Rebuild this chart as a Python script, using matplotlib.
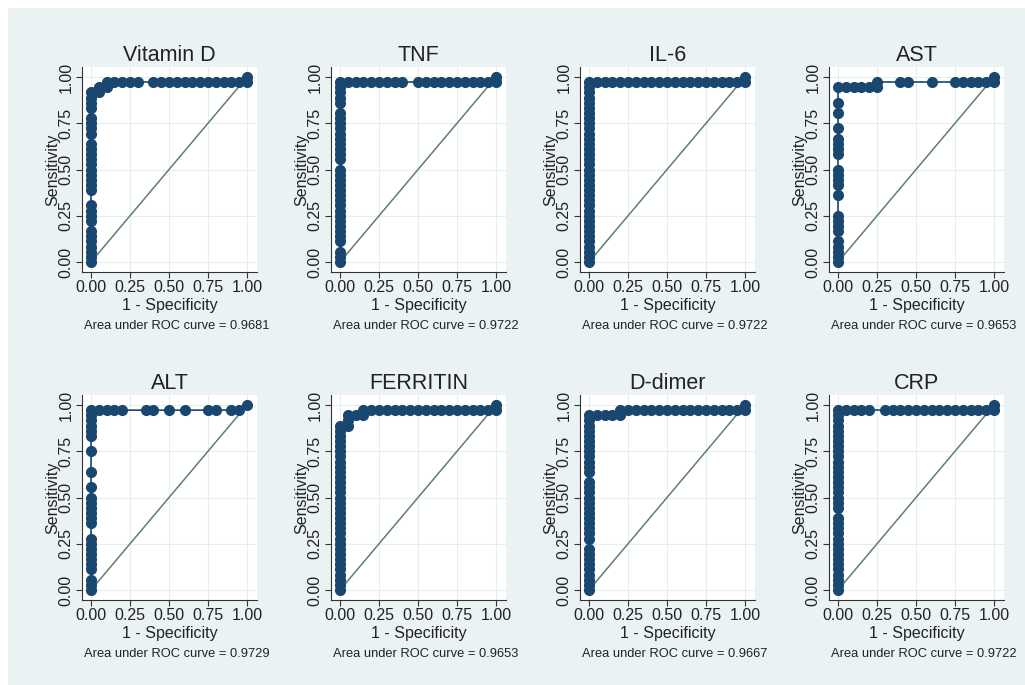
import matplotlib.pyplot as plt
from matplotlib.patches import Rectangle

plt.rcParams['font.family'] = ['Liberation Sans', 'DejaVu Sans']

# 36 positive and 20 negative cases; points are counts
n_pos = 36
n_neg = 20

titles = ['Vitamin D', 'TNF', 'IL-6', 'AST', 'ALT', 'FERRITIN', 'D-dimer', 'CRP']
auc = ['0.9681', '0.9722', '0.9722', '0.9653', '0.9729', '0.9653', '0.9667', '0.9722']

# true positives at 1-specificity = 0
vitd_tp0 = [0, 1, 2, 3, 4, 5, 6, 8, 9, 10, 11, 14, 15, 16, 17, 18, 19, 20, 21, 22, 23,
            25, 26, 27, 28, 30, 31, 32, 33]
tnf_tp0 = [0, 1, 2, 4, 5, 6, 7, 8, 9, 10, 11, 12, 13, 14, 15, 16, 17, 18, 20, 21, 22, 23,
           24, 25, 26, 27, 28, 29, 31, 32, 33, 34, 35]
il6_tp0 = [0, 1, 2, 3, 4, 5, 6, 7, 8, 9, 10, 11, 12, 13, 14, 15, 16, 17, 18, 19, 20, 21,
           22, 23, 24, 25, 26, 27, 28, 29, 30, 31, 32, 33, 34, 35]
ast_tp0 = [0, 1, 2, 3, 4, 6, 7, 8, 9, 13, 15, 16, 17, 18, 21, 22, 23, 24, 26, 29, 31, 34]
alt_tp0 = [0, 1, 2, 4, 5, 6, 7, 8, 9, 10, 13, 14, 15, 16, 17, 18, 20, 23, 27, 30, 31, 32,
           33, 34, 35]
fer_tp0 = [0, 1, 2, 3, 4, 5, 6, 7, 8, 9, 10, 11, 12, 13, 14, 15, 16, 17, 18, 19, 20, 21,
           22, 23, 24, 25, 26, 27, 28, 29, 30, 31, 32]
ddim_tp0 = [0, 1, 2, 3, 4, 5, 6, 7, 8, 10, 11, 12, 13, 14, 15, 16, 17, 18, 19, 20, 21,
            23, 24, 25, 26, 27, 28, 29, 30, 31, 32, 33, 34]
crp_tp0 = [0, 1, 2, 3, 4, 5, 6, 7, 8, 9, 10, 11, 12, 13, 14, 16, 17, 18, 19, 20, 21, 22,
           23, 24, 25, 26, 27, 28, 29, 30, 31, 32, 33, 34, 35]

# rest of each curve: false positives / true positives
vitd_fp = [1, 1, 2, 2, 3, 4, 5, 6, 8, 9, 10, 11, 12, 13, 14, 15, 16, 17, 18, 19, 20, 20]
vitd_tp = [33, 34, 34, 35, 35, 35, 35, 35, 35, 35, 35, 35, 35, 35, 35, 35, 35, 35, 35, 35, 35, 36]
tnf_fp = [1, 2, 3, 4, 5, 6, 7, 8, 10, 11, 12, 13, 14, 15, 16, 17, 18, 19, 20, 20]
tnf_tp = [35, 35, 35, 35, 35, 35, 35, 35, 35, 35, 35, 35, 35, 35, 35, 35, 35, 35, 35, 36]
il6_fp = [1, 2, 3, 4, 5, 6, 7, 8, 9, 10, 11, 12, 13, 14, 15, 16, 17, 18, 19, 20, 20]
il6_tp = [35, 35, 35, 35, 35, 35, 35, 35, 35, 35, 35, 35, 35, 35, 35, 35, 35, 35, 35, 35, 36]
ast_fp = [1, 2, 3, 4, 5, 5, 8, 9, 12, 15, 16, 17, 18, 19, 20, 20]
ast_tp = [34, 34, 34, 34, 34, 35, 35, 35, 35, 35, 35, 35, 35, 35, 35, 36]
alt_fp = [1, 2, 3, 4, 7, 8, 10, 12, 15, 16, 18, 19, 20]
alt_tp = [35, 35, 35, 35, 35, 35, 35, 35, 35, 35, 35, 35, 36]
fer_fp = [1, 1, 1, 2, 3, 3, 4, 5, 6, 7, 8, 9, 10, 11, 12, 13, 14, 15, 16, 17, 18, 19, 20, 20]
fer_tp = [32, 33, 34, 34, 34, 35, 35, 35, 35, 35, 35, 35, 35, 35, 35, 35, 35, 35, 35, 35, 35, 35, 35, 36]
ddim_fp = [1, 2, 3, 4, 4, 5, 6, 7, 8, 9, 10, 11, 12, 13, 14, 15, 16, 17, 18, 19, 20, 20]
ddim_tp = [34, 34, 34, 34, 35, 35, 35, 35, 35, 35, 35, 35, 35, 35, 35, 35, 35, 35, 35, 35, 35, 36]
crp_fp = [1, 2, 3, 4, 6, 7, 8, 9, 10, 11, 12, 13, 14, 15, 16, 17, 18, 19, 20, 20]
crp_tp = [35, 35, 35, 35, 35, 35, 35, 35, 35, 35, 35, 35, 35, 35, 35, 35, 35, 35, 35, 36]

tp0_all = [vitd_tp0, tnf_tp0, il6_tp0, ast_tp0, alt_tp0, fer_tp0, ddim_tp0, crp_tp0]
fp_all = [vitd_fp, tnf_fp, il6_fp, ast_fp, alt_fp, fer_fp, ddim_fp, crp_fp]
tp_all = [vitd_tp, tnf_tp, il6_tp, ast_tp, alt_tp, fer_tp, ddim_tp, crp_tp]

ticks = [0, 0.25, 0.5, 0.75, 1]
ticklabels = ['0.00', '0.25', '0.50', '0.75', '1.00']

navy = '#1a476f'
bg = '#eaf2f3'
txt = '#222222'

fig = plt.figure(figsize=(10.25, 6.85), dpi=100)
fig.patch.set_facecolor('white')
fig.patches.append(Rectangle((8 / 1025, 0), 1, 1 - 8 / 685, transform=fig.transFigure,
                             facecolor=bg, edgecolor='none', zorder=-10))

W, H = 1025, 685
lefts = [82, 331, 580, 829]
tops = [67, 395]
aw, ah = 175, 205

for i in range(8):
    r, c = i // 4, i % 4
    ax = fig.add_axes([lefts[c] / W, 1 - (tops[r] + ah) / H, aw / W, ah / H])
    ax.set_facecolor('white')

    x = [0] * len(tp0_all[i]) + fp_all[i]
    y = tp0_all[i] + tp_all[i]
    x = [v / n_neg for v in x]
    y = [v / n_pos for v in y]

    ax.plot([0, 1], [0, 1], color='#5f7f71', lw=1.1, zorder=2)
    ax.plot(x, y, color=navy, lw=1.2, marker='o', ms=7, mfc=navy, mec=navy, zorder=3,
            clip_on=False)

    ax.set_xlim(-0.058, 1.064)
    ax.set_ylim(-0.054, 1.054)
    ax.set_xticks(ticks)
    ax.set_xticklabels(ticklabels)
    ax.set_yticks(ticks)
    ax.set_yticklabels(ticklabels, rotation=90, va='center')
    ax.tick_params(axis='both', labelsize=11.5, length=4, width=0.8, color='#333333',
                   labelcolor=txt, pad=2)
    ax.grid(True, color='#e6edf0', lw=0.8)
    ax.set_axisbelow(True)
    for s in ['top', 'right']:
        ax.spines[s].set_visible(False)
    for s in ['left', 'bottom']:
        ax.spines[s].set_color('#333333')
        ax.spines[s].set_linewidth(0.8)

    ax.set_title(titles[i], fontsize=15.5, color=txt, pad=4)
    ax.set_xlabel('1 - Specificity', fontsize=11.5, color=txt)
    ax.xaxis.set_label_coords(0.5, -0.163)
    ax.xaxis.label.set_va('center')
    ax.set_ylabel('Sensitivity', fontsize=11.5, color=txt)
    ax.yaxis.set_label_coords(-0.168, 0.5)
    ax.yaxis.label.set_va('center')
    ax.text(0.01, -0.262, 'Area under ROC curve = ' + auc[i], transform=ax.transAxes,
            fontsize=9.3, color=txt, ha='left', va='center')

plt.savefig('out.png', dpi=100, facecolor=fig.get_facecolor())
